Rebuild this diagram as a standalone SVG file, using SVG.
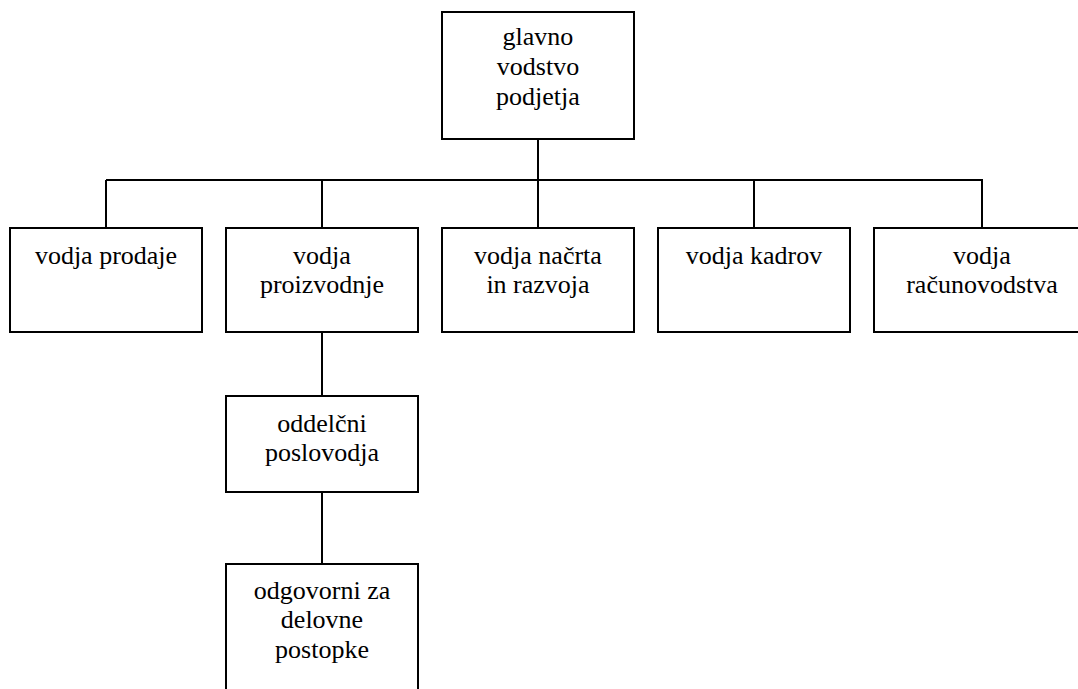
<svg xmlns="http://www.w3.org/2000/svg" width="1078" height="689" viewBox="0 0 1078 689">
  <style>
    .box { fill: #ffffff; stroke: #000000; stroke-width: 2; }
    .link { fill: none; stroke: #000000; stroke-width: 2; }
  </style>
  <rect width="1078" height="689" fill="#ffffff"/>

  <!-- connectors -->
  <g id="connectors">
    <line class="link" x1="538" y1="139" x2="538" y2="228"/>
    <line class="link" x1="106" y1="180" x2="983" y2="180"/>
    <line class="link" x1="106" y1="180" x2="106" y2="228"/>
    <line class="link" x1="322" y1="180" x2="322" y2="228"/>
    <line class="link" x1="754" y1="180" x2="754" y2="228"/>
    <line class="link" x1="982" y1="180" x2="982" y2="228"/>
    <line class="link" x1="322" y1="332" x2="322" y2="396"/>
    <line class="link" x1="322" y1="492" x2="322" y2="564"/>
  </g>

  <!-- org chart boxes -->
  <g font-family="'Liberation Serif', 'Times New Roman', serif" font-size="26" fill="#000000" text-anchor="middle">
    <g id="glavno-vodstvo">
      <rect class="box" x="442" y="12" width="192" height="127"/>
      <text x="538" y="45">glavno</text>
      <text x="538" y="75">vodstvo</text>
      <text x="538" y="105">podjetja</text>
    </g>

    <g id="vodja-prodaje">
      <rect class="box" x="10" y="228" width="192" height="104"/>
      <text x="106" y="264">vodja prodaje</text>
    </g>

    <g id="vodja-proizvodnje">
      <rect class="box" x="226" y="228" width="192" height="104"/>
      <text x="322" y="264">vodja</text>
      <text x="322" y="293">proizvodnje</text>
    </g>

    <g id="vodja-nacrta">
      <rect class="box" x="442" y="228" width="192" height="104"/>
      <text x="538" y="264">vodja načrta</text>
      <text x="538" y="293">in razvoja</text>
    </g>

    <g id="vodja-kadrov">
      <rect class="box" x="658" y="228" width="192" height="104"/>
      <text x="754" y="264">vodja kadrov</text>
    </g>

    <g id="vodja-racunovodstva">
      <rect class="box" x="874" y="228" width="216" height="104"/>
      <text x="982" y="264">vodja</text>
      <text x="982" y="293">računovodstva</text>
    </g>

    <g id="oddelcni-poslovodja">
      <rect class="box" x="226" y="396" width="192" height="96"/>
      <text x="322" y="432">oddelčni</text>
      <text x="322" y="461">poslovodja</text>
    </g>

    <g id="odgovorni">
      <rect class="box" x="226" y="564" width="192" height="140"/>
      <text x="322" y="599">odgovorni za</text>
      <text x="322" y="628">delovne</text>
      <text x="322" y="658">postopke</text>
    </g>
  </g>
</svg>
